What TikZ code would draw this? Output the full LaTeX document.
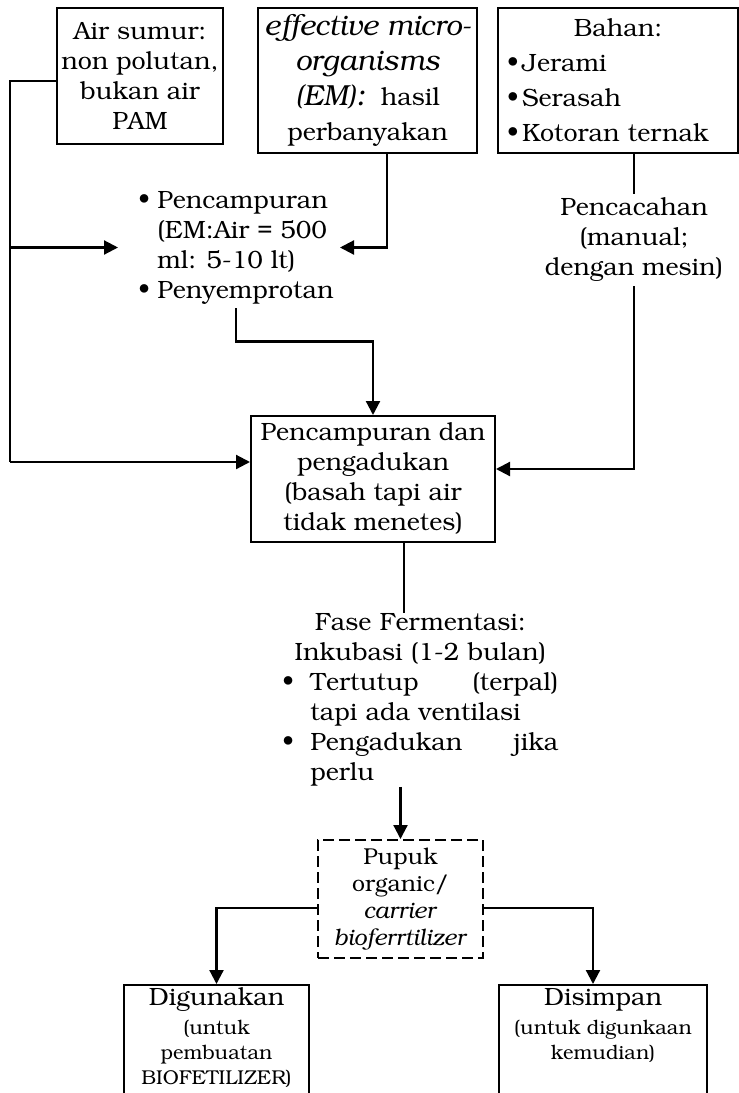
\documentclass[tikz,border=0pt]{standalone}
\usepackage[T1]{fontenc}
\usepackage{bookman}
\usepackage{tikz}
\usetikzlibrary{positioning,arrows.meta,calc}

\newcommand{\bul}[1][9.5pt]{\makebox[#1][l]{\textbullet}}

\begin{document}
\begin{tikzpicture}[
  x=0.5pt, y=-0.5pt,
  font=\fontsize{12.5}{15}\selectfont,
  box/.style={draw, line width=1pt, align=center, inner sep=0pt},
  txt/.style={align=center, inner sep=2pt},
  arr/.style={-{Triangle[length=7pt,width=7pt]}, line width=1.1pt},
  ln/.style={line width=1.1pt}
]
\useasboundingbox (0,0) rectangle (739,1093);
\clip (0,0) rectangle (739,1093);

\node[box, minimum width=83pt, minimum height=68pt] (air) at (140,76) {Air sumur:\\non polutan,\\bukan air\\PAM};
\node[box, minimum width=109.5pt, minimum height=72.5pt, font=\fontsize{12.5}{17.5}\selectfont] (em) at (367.5,80.5)
  {{\fontsize{14.5}{17.5}\selectfont\itshape effective micro-}\\{\fontsize{14.5}{17.5}\selectfont\itshape organisms}\\{\fontsize{14.5}{17.5}\selectfont\itshape (EM):}\ \ hasil\\perbanyakan};
\node[box, text width=111pt, inner xsep=4.5pt, minimum height=72.5pt, align=left, font=\fontsize{12.5}{17.5}\selectfont] (bahan) at (618,80.5)
  {\hfill Bahan:\hfill\null\\\bul[7.5pt]Jerami\\\bul[7.5pt]Serasah\\\bul[7.5pt]Kotoran ternak};

\node[txt, align=left, anchor=west, inner xsep=10pt] (mix) at (118,247.5)
  {\bul Pencampuran\\\hspace*{9.5pt}(EM:Air = 500\\\hspace*{9.5pt}ml: 5-10 lt)\\\bul Penyemprotan};
\node[txt] (cacah) at (634,240) {Pencacahan\\(manual;\\dengan mesin)};

\node[box, minimum width=122pt, minimum height=63pt] (aduk) at (373,479) {Pencampuran dan\\pengadukan\\(basah tapi air\\tidak menetes)};

\node[txt, align=left, text width=138pt, anchor=north west, inner ysep=0pt] (fase) at (278,613)
  {\hfill Fase Fermentasi:\hfill\null\\
   \hfill Inkubasi (1-2 bulan)\hfill\null\\
   \bul[14pt]Tertutup\hfill(terpal)\\
   \hspace*{14pt}tapi ada ventilasi\\
   \bul[14pt]Pengadukan\hfill jika\\
   \hspace*{14pt}perlu};

\node[box, dash pattern=on 5.5pt off 2.5pt, minimum width=82.5pt, minimum height=59pt, font=\fontsize{11.5}{13.5}\selectfont] (pupuk) at (400.5,899)
  {Pupuk\\organic/\\\textit{carrier}\\\textit{bioferrtilizer}};

\node[box, minimum width=92.5pt, minimum height=70pt, anchor=north] (guna) at (216.5,984) {};
\node[txt, below=0pt of guna.north, font=\fontsize{10}{12.5}\selectfont] (gunatxt)
  {{\fontsize{12.5}{15}\selectfont Digunakan}\\[2pt](untuk\\pembuatan\\BIOFETILIZER)};
\node[box, minimum width=104pt, minimum height=70pt, anchor=north] (simpan) at (603,984) {};
\node[txt, below=0pt of simpan.north, font=\fontsize{10}{12.5}\selectfont] (simpantxt)
  {{\fontsize{12.5}{15}\selectfont Disimpan}\\[2pt](untuk digunkaan\\kemudian)};

\coordinate (spine) at (10,462);
\draw[ln] ([yshift=-2.5pt]air.west) -| (spine);
\draw[arr] (spine |- mix.west) -- (mix.west);
\draw[arr] (spine) -- (spine -| aduk.west);
\draw[arr] ([xshift=9.75pt]em.south) |- ([xshift=-7pt]mix.east);
\draw[arr] (mix.south) -- ++(0,33) -| (aduk.north);
\draw[ln] (bahan.south -| cacah.north) -- (cacah.north);
\draw[arr] (cacah.south) |- ([yshift=5pt]aduk.east);
\coordinate (ferm) at ([xshift=15.5pt]aduk.south);
\draw[ln] (ferm) -- (ferm |- fase.north);
\draw[arr] (pupuk.north |- fase.south) -- (pupuk.north);
\draw[arr] ([yshift=-4.5pt]pupuk.west) -| (guna.north);
\draw[arr] ([yshift=-4.5pt]pupuk.east) -| ([xshift=-5pt]simpan.north);
\end{tikzpicture}
\end{document}
